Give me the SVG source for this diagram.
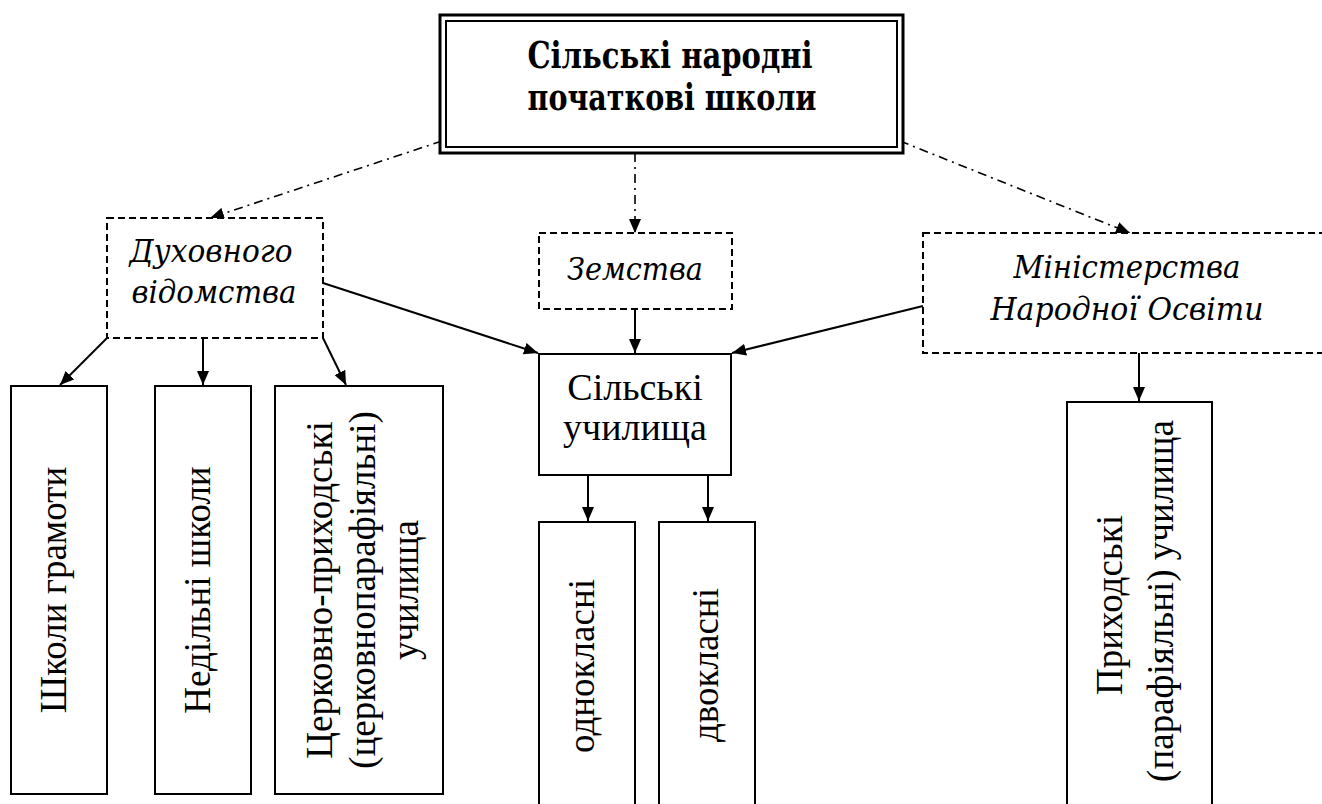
<svg xmlns="http://www.w3.org/2000/svg" width="1322" height="804" viewBox="0 0 1322 804">
<defs>
<marker id="ah" viewBox="0 0 14 12" refX="14" refY="6" markerWidth="14" markerHeight="12" markerUnits="userSpaceOnUse" orient="auto"><path d="M0,0 L14,6 L0,12 z" fill="#000"/></marker>
</defs>
<style>
text{font-family:"Liberation Serif","Times New Roman",serif;fill:#000;text-anchor:middle}
.solid{fill:#fff;stroke:#000;stroke-width:2}
.dash{fill:#fff;stroke:#000;stroke-width:2;stroke-dasharray:7 4}
.title{font-family:"DejaVu Serif",serif;font-size:37px;font-weight:bold}
.it{font-family:"DejaVu Serif",serif;font-size:31px;font-style:italic}
.reg{font-size:38px}
.vert{font-size:37px}
.conn{fill:none;stroke:#000;stroke-width:2;marker-end:url(#ah)}
.dd{fill:none;stroke:#000;stroke-width:1.6;stroke-dasharray:9 5 2 5;marker-end:url(#ah)}
</style>
<g id="connectors">
<path class="dd" d="M442,141 L210,218"/>
<path class="dd" d="M635,153 L635,233"/>
<path class="dd" d="M900,141 L1130,233"/>
<path class="conn" d="M323,283 L538,353"/>
<path class="conn" d="M635,309 L635,353"/>
<path class="conn" d="M923,306 L732,353"/>
<path class="conn" d="M107,338 L60,385"/>
<path class="conn" d="M203,338 L203,385"/>
<path class="conn" d="M323,338 L346,385"/>
<path class="conn" d="M588,475 L588,521"/>
<path class="conn" d="M708,475 L708,521"/>
<path class="conn" d="M1139,353 L1139,401"/>
</g>
<g id="top">
<rect x="440" y="15" width="463" height="138" fill="#fff" stroke="#000" stroke-width="3"/>
<rect x="446" y="21" width="451" height="126" fill="none" stroke="#000" stroke-width="2"/>
<text class="title" x="670" y="68" textLength="285" lengthAdjust="spacingAndGlyphs">Сільські народні</text>
<text class="title" x="672" y="110" textLength="289" lengthAdjust="spacingAndGlyphs">початкові школи</text>
</g>
<g id="duhovnogo">
<rect class="dash" x="107" y="218" width="216" height="120"/>
<text class="it" x="211" y="262" textLength="163" lengthAdjust="spacingAndGlyphs">Духовного</text>
<text class="it" x="214" y="303" textLength="165" lengthAdjust="spacingAndGlyphs">відомства</text>
</g>
<g id="zemstva">
<rect class="dash" x="539" y="233" width="193" height="76"/>
<text class="it" x="635" y="280" textLength="136" lengthAdjust="spacingAndGlyphs">Земства</text>
</g>
<g id="ministerstva">
<rect class="dash" x="923" y="233" width="410" height="120"/>
<text class="it" x="1127" y="278" textLength="227" lengthAdjust="spacingAndGlyphs">Міністерства</text>
<text class="it" x="1127" y="320" textLength="273" lengthAdjust="spacingAndGlyphs">Народної Освіти</text>
</g>
<g id="silski">
<rect class="solid" x="539" y="354" width="192" height="121"/>
<text class="reg" x="635" y="400">Сільські</text>
<text class="reg" x="635" y="440">училища</text>
</g>
<g id="hramoty">
<rect class="solid" x="11" y="386" width="96" height="408"/>
<text class="vert" transform="translate(66,590) rotate(-90)">Школи грамоти</text>
</g>
<g id="nedilni">
<rect class="solid" x="155" y="386" width="96" height="408"/>
<text class="vert" transform="translate(210,590) rotate(-90)">Недільні школи</text>
</g>
<g id="tserkovno">
<rect class="solid" x="275" y="386" width="168" height="408"/>
<text class="vert" transform="translate(332,590) rotate(-90)">Церковно-приходські</text>
<text class="vert" transform="translate(375,590) rotate(-90)">(церковнопарафіяльні)</text>
<text class="vert" transform="translate(418,590) rotate(-90)">училища</text>
</g>
<g id="odnoklasni">
<rect class="solid" x="539" y="522" width="96" height="290"/>
<text class="vert" transform="translate(594,666) rotate(-90)">однокласні</text>
</g>
<g id="dvoklasni">
<rect class="solid" x="659" y="522" width="96" height="290"/>
<text class="vert" transform="translate(718,665) rotate(-90)">двокласні</text>
</g>
<g id="prykhodski">
<rect class="solid" x="1067" y="402" width="145" height="410"/>
<text class="vert" transform="translate(1122,605) rotate(-90)">Приходські</text>
<text class="vert" transform="translate(1173,601) rotate(-90)">(парафіяльні) училища</text>
</g>
</svg>
